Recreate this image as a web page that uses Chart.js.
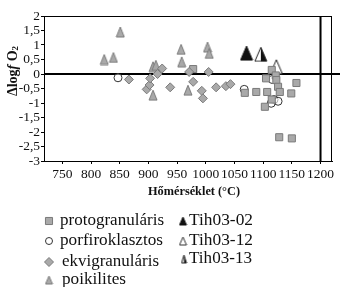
<!DOCTYPE html>
<html>
<head>
<meta charset="utf-8">
<script src="https://cdn.jsdelivr.net/npm/chart.js@4.4.0/dist/chart.umd.min.js"></script>
<style>
  html, body { margin: 0; padding: 0; background: #fff; }
</style>
</head>
<body>
<canvas id="c" width="340" height="287"></canvas>
<script>
// tick labels
const xTicks = [750, 800, 850, 900, 950, 1000, 1050, 1100, 1150, 1200];
const yTicks = [-3, -2.5, -2, -1.5, -1, -0.5, 0, 0.5, 1, 1.5, 2];

// protogranuláris
const protoX = [978, 1068, 1088, 1105, 1115, 1122, 1123, 1126, 1158, 1107, 1129, 1149, 1103, 1115, 1128, 1150];
const protoY = [0.17, -0.65, -0.62, -0.15, 0.14, -0.05, -0.21, -0.44, -0.31, -0.62, -0.62, -0.67, -1.13, -0.88, -2.18, -2.22];
// porfiroklasztos
const porfX = [847, 1067, 1116, 1119, 1126, 1114];
const porfY = [-0.13, -0.53, -0.19, -0.88, -0.94, -1.01];
// ekvigranuláris
const ekviX = [866, 897, 902, 903, 916, 924, 938, 971, 978, 993, 995, 1005, 1018, 1035, 1043];
const ekviY = [-0.19, -0.53, -0.38, -0.15, 0.0, 0.19, -0.46, 0.07, -0.27, -0.58, -0.84, 0.07, -0.46, -0.42, -0.35];
// poikilites
const poikX = [823, 839, 851, 908, 913, 908, 957, 958, 969, 1003, 1006];
const poikY = [0.5, 0.57, 1.45, 0.25, 0.3, -0.73, 0.85, 0.42, -0.56, 0.93, 0.71];
// Tih minták
const tih02 = [1071, 0.72];
const tih12 = [1123, 0.25];
const tih13 = [1096, 0.68];

const gray = '#a9a9a9', grayEdge = '#7a7a7a';
const serif = '"Liberation Serif", "DejaVu Serif", serif';

// háromszög képek (magasabbak mint szélesek)
function triImg(w, h, fill, edge, half) {
  const c = document.createElement('canvas');
  c.width = w + 2; c.height = h + 2;
  const g = c.getContext('2d');
  const path = () => {
    g.beginPath();
    g.moveTo(c.width / 2, 1); g.lineTo(w + 1, h + 1); g.lineTo(1, h + 1); g.closePath();
  };
  path(); g.fillStyle = fill; g.fill();
  if (half) {
    g.save(); path(); g.clip();
    g.fillStyle = '#111'; g.fillRect(c.width / 2, 0, c.width, c.height);
    g.restore();
  }
  path(); g.strokeStyle = edge; g.lineWidth = 1; g.stroke();
  return c;
}
const triGray = triImg(8, 10, gray, grayEdge);
const triBlack = triImg(12, 14, '#111', '#111');
const triWhite = triImg(12, 14, '#fff', '#222');
const triHalf = triImg(12, 14, '#fff', '#222', true);
const lgGray = triImg(7, 8, gray, grayEdge);
const lgBlack = triImg(7, 8, '#111', '#111');
const lgWhite = triImg(7, 8, '#fff', '#333');
const lgHalf = triImg(5, 8, '#fff', '#222', true);

const pts = (xs, ys) => xs.map((v, i) => ({x: v, y: ys[i]}));

// szöveg adott szélességre nyújtva
function fitText(ctx, text, x, y, width) {
  const w = ctx.measureText(text).width;
  ctx.save();
  ctx.translate(x, y);
  ctx.scale(width / w, 1);
  ctx.fillText(text, 0, 0);
  ctx.restore();
}

const decor = {
  id: 'decor',
  beforeDatasetsDraw(chart) {
    const {ctx, chartArea: {left, right, top, bottom}, scales: {x, y}} = chart;
    ctx.save();
    ctx.strokeStyle = '#000';
    ctx.lineWidth = 1;
    ctx.beginPath();
    ctx.moveTo(left, top + 0.5); ctx.lineTo(right, top + 0.5);
    ctx.moveTo(right - 0.5, top); ctx.lineTo(right - 0.5, bottom);
    ctx.stroke();
    ctx.lineWidth = 2;
    const y0 = y.getPixelForValue(0), xv = x.getPixelForValue(1200);
    ctx.beginPath();
    ctx.moveTo(left, y0); ctx.lineTo(chart.width, y0);
    ctx.moveTo(xv, top); ctx.lineTo(xv, bottom);
    ctx.stroke();
    ctx.restore();
  },
  afterDraw(chart) {
    const {ctx} = chart;
    ctx.save();
    ctx.fillStyle = '#111';
    // x tengely címe
    ctx.font = 'bold 13px ' + serif;
    ctx.textAlign = 'left'; ctx.textBaseline = 'middle';
    fitText(ctx, 'Hőmérséklet (°C)', 148, 192, 92);
    // y tengely címe: Δlog f O2
    ctx.translate(13, 71);
    ctx.rotate(-Math.PI / 2);
    const parts = [
      ['Δlog', 'bold 14px ' + serif, 0],
      ['f', 'italic bold 14px ' + serif, 0],
      [' O', 'bold 14px ' + serif, 0],
      ['2', 'bold 9px ' + serif, 3]
    ];
    let w = 0;
    parts.forEach(p => { ctx.font = p[1]; w += ctx.measureText(p[0]).width; });
    let cx = -w / 2;
    parts.forEach(p => { ctx.font = p[1]; ctx.fillText(p[0], cx, p[2]); cx += ctx.measureText(p[0]).width; });
    ctx.restore();

    // jelmagyarázat
    ctx.save();
    const draw = (style, r, fill, edge, px, py) => {
      ctx.fillStyle = fill; ctx.strokeStyle = edge;
      Chart.helpers.drawPoint(ctx, {pointStyle: style, radius: r, rotation: 0, borderWidth: 1}, px, py);
    };
    draw('rect', 5, gray, grayEdge, 49, 221);
    draw('circle', 3.5, '#fff', '#333', 49, 241);
    draw('rectRot', 4.5, gray, grayEdge, 49, 262);
    draw(lgGray, 4, gray, grayEdge, 49, 280);
    draw(lgBlack, 4, '#111', '#111', 183, 221);
    draw(lgWhite, 4, '#fff', '#333', 183, 241);
    draw(lgHalf, 4, '#fff', '#333', 184, 259);
    ctx.fillStyle = '#111';
    ctx.font = '17px ' + serif;
    ctx.textAlign = 'left'; ctx.textBaseline = 'middle';
    fitText(ctx, 'protogranuláris', 60, 221, 104);
    fitText(ctx, 'porfiroklasztos', 60, 241, 103);
    fitText(ctx, 'ekvigranuláris', 62, 262, 97);
    fitText(ctx, 'poikilites', 62, 280, 64);
    fitText(ctx, 'Tih03-02', 189, 221, 64);
    fitText(ctx, 'Tih03-12', 189, 241, 64);
    fitText(ctx, 'Tih03-13', 189, 259, 63);
    ctx.restore();
  }
};

new Chart(document.getElementById('c'), {
  type: 'scatter',
  data: {
    datasets: [
      { label: 'ekvigranuláris', data: pts(ekviX, ekviY), pointStyle: 'rectRot', pointRadius: 4.5,
        backgroundColor: gray, borderColor: grayEdge, borderWidth: 1 },
      { label: 'poikilites', data: pts(poikX, poikY), pointStyle: triGray, pointRadius: 5,
        backgroundColor: gray, borderColor: grayEdge },
      { label: 'protogranuláris', data: pts(protoX, protoY), pointStyle: 'rect', pointRadius: 5,
        backgroundColor: gray, borderColor: grayEdge, borderWidth: 1 },
      { label: 'porfiroklasztos', data: pts(porfX, porfY), pointStyle: 'circle', pointRadius: 4,
        backgroundColor: 'rgba(255,255,255,0.6)', borderColor: '#333', borderWidth: 1 },
      { label: 'Tih03-02', data: [{x: tih02[0], y: tih02[1]}], pointStyle: triBlack, pointRadius: 7 },
      { label: 'Tih03-12', data: [{x: tih12[0], y: tih12[1]}], pointStyle: triWhite, pointRadius: 7 },
      { label: 'Tih03-13', data: [{x: tih13[0], y: tih13[1]}], pointStyle: triHalf, pointRadius: 7 }
    ]
  },
  options: {
    responsive: false,
    animation: false,
    events: [],
    layout: { padding: { top: 16, right: 4, left: 0, bottom: 0 } },
    plugins: { legend: { display: false }, tooltip: { enabled: false } },
    scales: {
      x: {
        type: 'linear', min: 718, max: 1220,
        afterBuildTicks: s => { s.ticks = xTicks.map(v => ({value: v})); },
        afterFit: s => { s.height = 126; },
        grid: { drawOnChartArea: false, drawTicks: true, tickLength: 3, color: '#000' },
        border: { display: true, color: '#000', width: 1 },
        ticks: { color: '#111', padding: 2, maxRotation: 0, autoSkip: false,
          font: { family: serif, size: 13.5 },
          callback: v => String(v) }
      },
      y: {
        min: -3, max: 2,
        afterBuildTicks: s => { s.ticks = yTicks.map(v => ({value: v})); },
        afterFit: s => { s.width = 44; },
        grid: { drawOnChartArea: false, drawTicks: true, tickLength: 3, color: '#000' },
        border: { display: true, color: '#000', width: 1 },
        ticks: { color: '#111', padding: 1, autoSkip: false,
          font: { family: serif, size: 13.5 },
          callback: v => String(v).replace('.', ',') }
      }
    }
  },
  plugins: [decor]
});
</script>
</body>
</html>
